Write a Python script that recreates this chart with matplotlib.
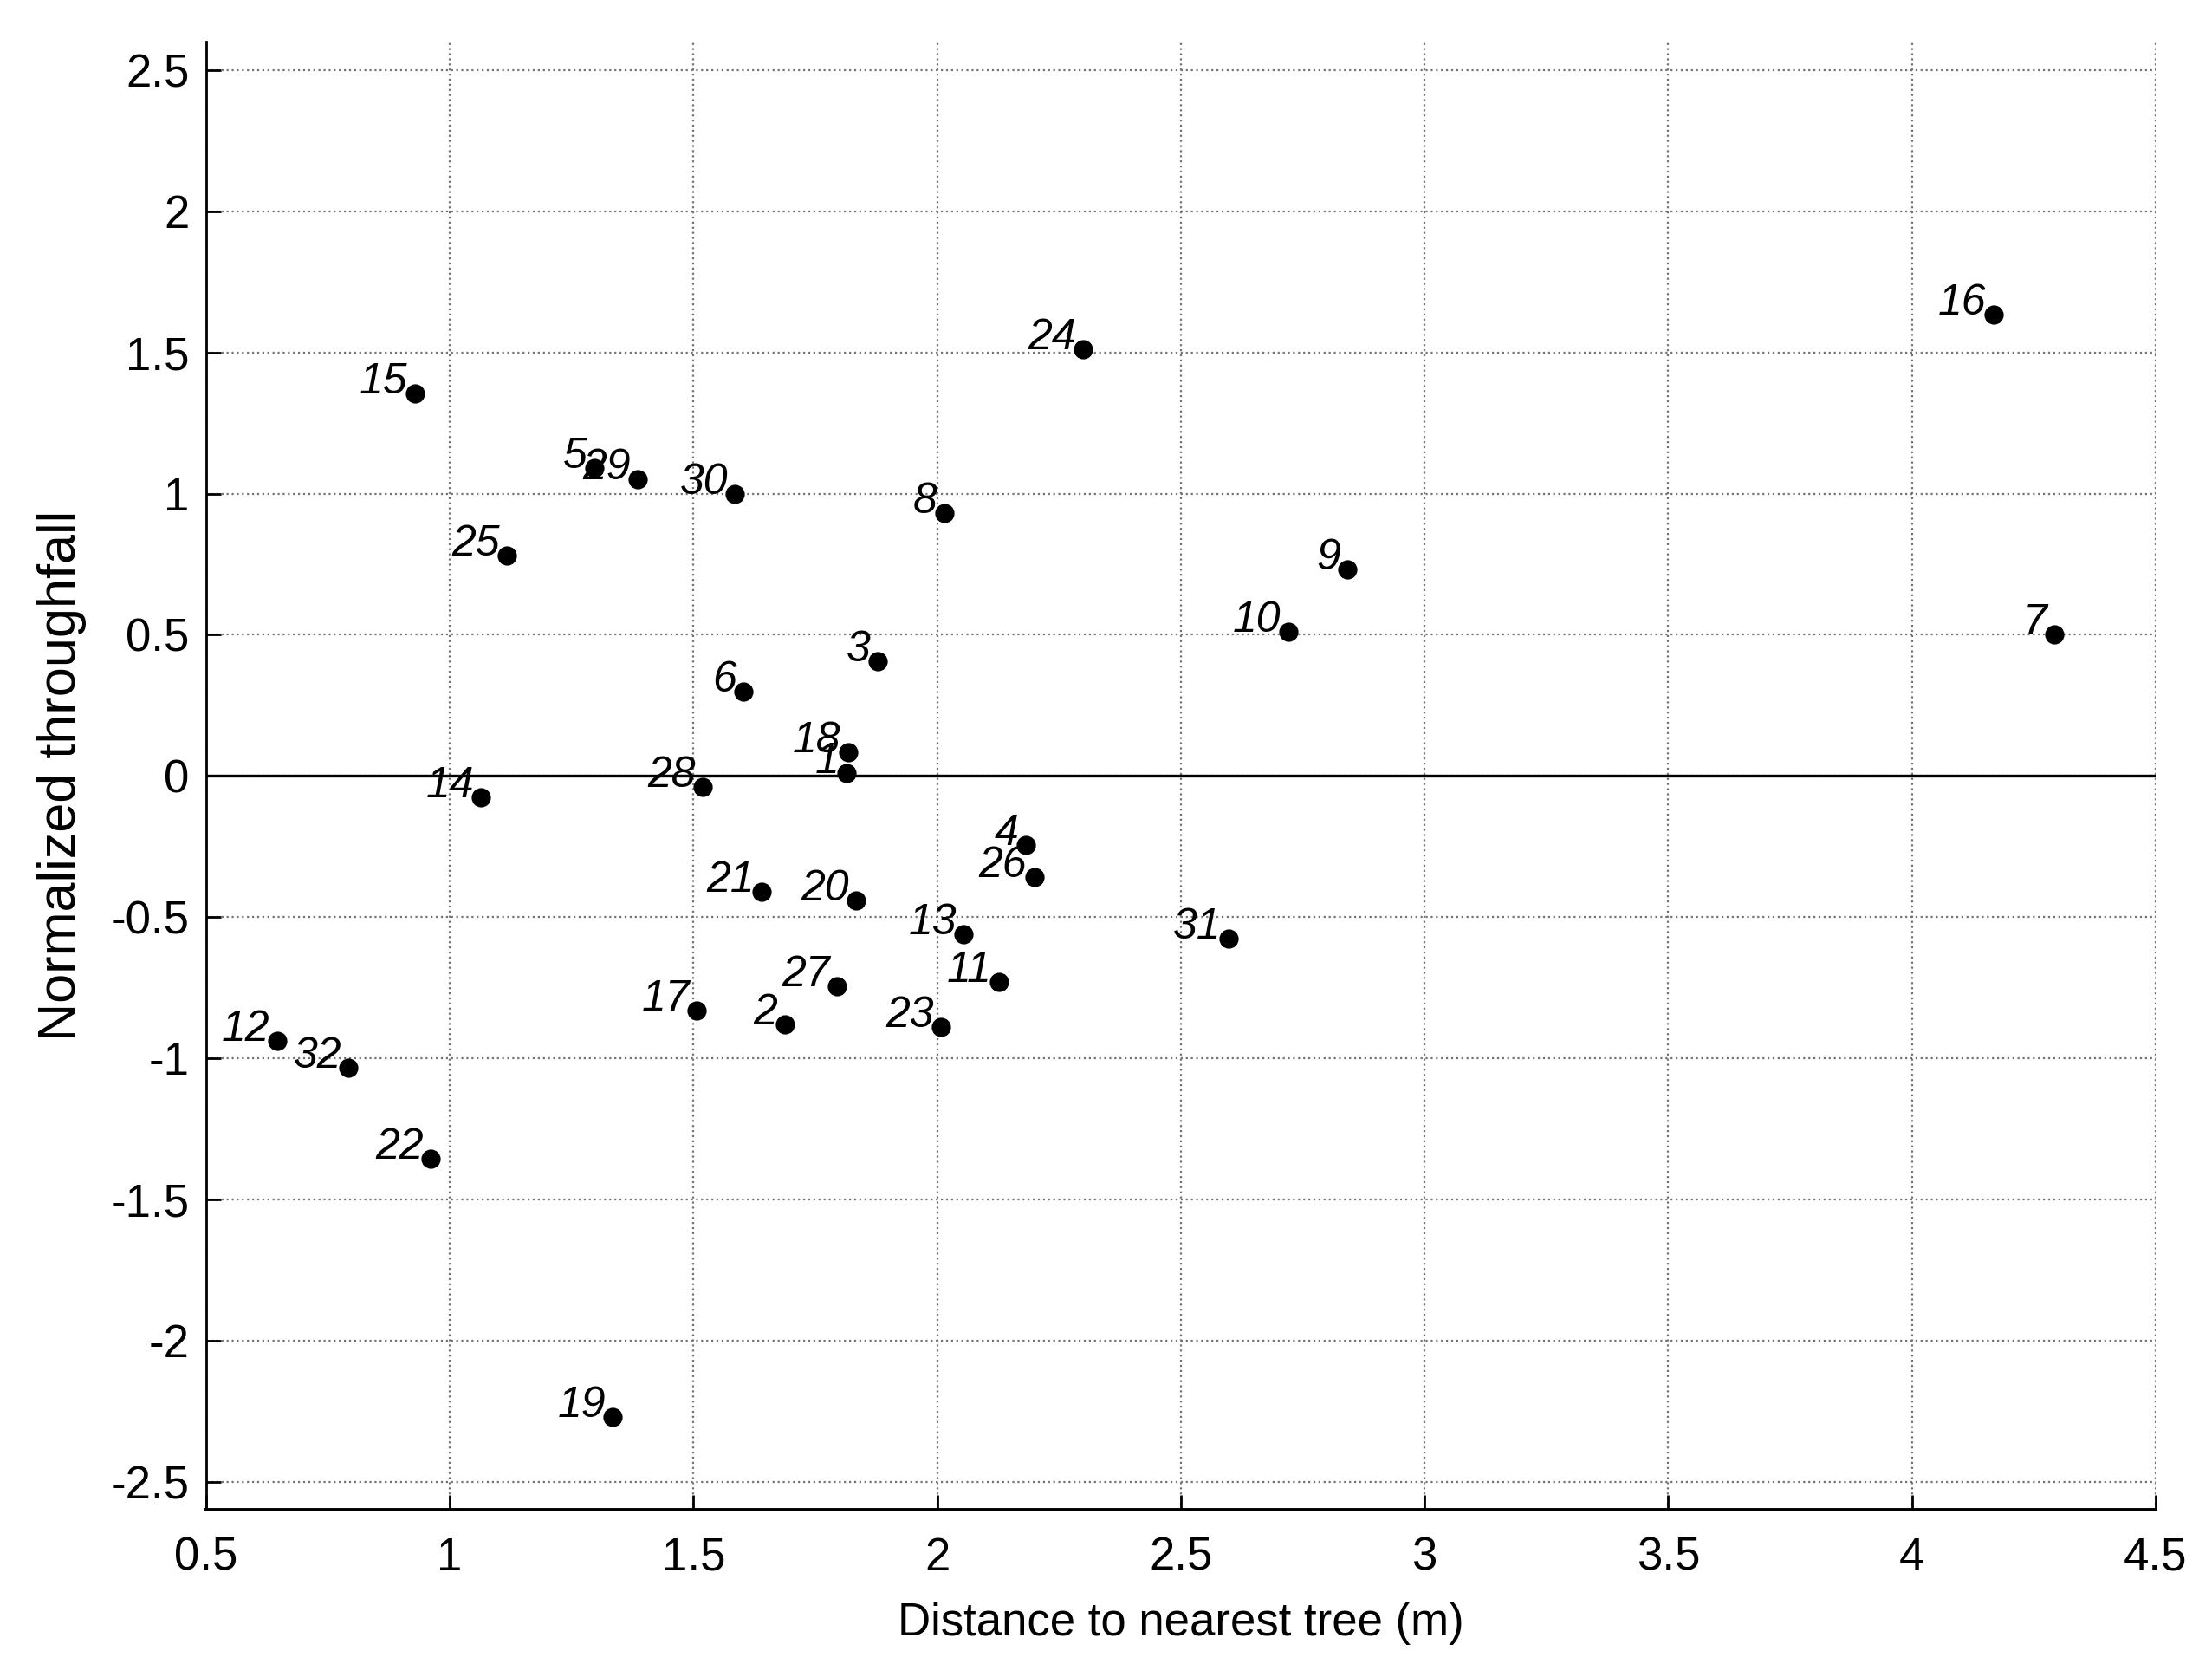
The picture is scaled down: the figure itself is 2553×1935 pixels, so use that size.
import matplotlib
matplotlib.use('Agg')
import matplotlib.pyplot as plt

# Sampling points: id, distance to nearest tree (m), normalized throughfall.
point_ids = [1, 2, 3, 4, 5, 6, 7, 8, 9, 10, 11, 12, 13, 14, 15, 16,
             17, 18, 19, 20, 21, 22, 23, 24, 25, 26, 27, 28, 29, 30, 31, 32]
distance = [1.814, 1.687, 1.878, 2.182, 1.296, 1.603, 4.292, 2.014,
            2.842, 2.720, 2.127, 0.645, 2.054, 1.064, 0.928, 4.167,
            1.507, 1.817, 1.334, 1.834, 1.640, 0.960, 2.008, 2.300,
            1.117, 2.199, 1.794, 1.519, 1.386, 1.585, 2.598, 0.792]
throughfall = [0.01, -0.88, 0.405, -0.245, 1.09, 0.30, 0.50, 0.93,
               0.73, 0.51, -0.73, -0.94, -0.56, -0.075, 1.355, 1.635,
               -0.83, 0.085, -2.27, -0.44, -0.41, -1.355, -0.89, 1.51,
               0.78, -0.36, -0.745, -0.04, 1.05, 1.00, -0.575, -1.035]

x_ticks = [0.5, 1, 1.5, 2, 2.5, 3, 3.5, 4, 4.5]
y_ticks = [-2.5, -2, -1.5, -1, -0.5, 0, 0.5, 1, 1.5, 2, 2.5]

plt.rcParams['font.family'] = ['Liberation Sans', 'DejaVu Sans']

fig = plt.figure(figsize=(12.765, 9.675), dpi=200)
ax = fig.add_axes([0.0932, 0.0997, 0.8813, 0.8753])

# Grid first so it sits underneath.
ax.grid(True, linestyle=':', color='0.45', linewidth=0.8)
ax.set_axisbelow(True)

# Zero reference line.
ax.axhline(0, color='black', linewidth=1.2, zorder=2)

ax.plot(distance, throughfall, 'o', color='black', markersize=7,
        linestyle='none', zorder=3)

# Number each point, just up and left of the marker.
for pid, xv, yv in zip(point_ids, distance, throughfall):
    ax.annotate(str(pid), (xv, yv), xytext=(-3, 0),
                textcoords='offset points', ha='right', va='baseline',
                fontsize=18, fontstyle='italic', zorder=4)

ax.set_xlim(0.5, 4.5)
ax.set_ylim(-2.6, 2.6)
ax.set_xticks(x_ticks)
ax.set_xticklabels(['%g' % t for t in x_ticks])
ax.set_yticks(y_ticks)
ax.set_yticklabels(['%g' % t for t in y_ticks])

ax.spines['top'].set_visible(False)
ax.spines['right'].set_visible(False)
ax.spines['left'].set_linewidth(1.0)
ax.spines['bottom'].set_linewidth(1.4)

ax.tick_params(axis='x', direction='in', length=6, width=1.0,
               labelsize=19, pad=11)
ax.tick_params(axis='y', direction='in', length=6, width=1.0,
               labelsize=19, pad=7)

ax.set_xlabel('Distance to nearest tree (m)', fontsize=19, labelpad=9)
ax.set_ylabel('Normalized throughfall', fontsize=22, labelpad=10)

fig.savefig('out.png', dpi=200)
